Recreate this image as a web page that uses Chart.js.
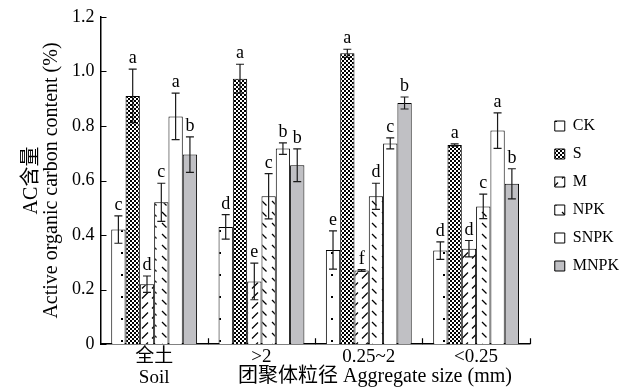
<!DOCTYPE html>
<html>
<head>
<meta charset="utf-8">
<script src="https://cdn.jsdelivr.net/npm/chart.js"></script>
<style>
  html, body { margin: 0; padding: 0; background: #fff; }
</style>
</head>
<body>
<canvas id="chart" width="639" height="390"></canvas>
<script>
// 横軸カテゴリ（団聚体粒径）
const categories = [['全土', 'Soil'], '>2', '0.25~2', '<0.25'];
const seriesNames = ['CK', 'S', 'M', 'NPK', 'SNPK', 'MNPK'];

// 各処理の平均値
const ckValues   = [0.42, 0.43, 0.345, 0.343];
const sValues    = [0.91, 0.973, 1.066, 0.73];
const mValues    = [0.22, 0.23, 0.27, 0.35];
const npkValues  = [0.52, 0.542, 0.542, 0.505];
const snpkValues = [0.835, 0.717, 0.736, 0.783];
const mnpkValues = [0.695, 0.656, 0.884, 0.588];

// 標準誤差
const ckErrors   = [0.05, 0.045, 0.07, 0.032];
const sErrors    = [0.098, 0.053, 0.015, 0.004];
const mErrors    = [0.03, 0.067, 0.003, 0.03];
const npkErrors  = [0.07, 0.083, 0.048, 0.045];
const snpkErrors = [0.085, 0.021, 0.02, 0.065];
const mnpkErrors = [0.065, 0.06, 0.022, 0.055];

// 有意差の文字
const ckLetters   = ['c', 'd', 'e', 'd'];
const sLetters    = ['a', 'a', 'a', 'a'];
const mLetters    = ['d', 'e', 'f', 'd'];
const npkLetters  = ['c', 'c', 'd', 'c'];
const snpkLetters = ['a', 'b', 'c', 'a'];
const mnpkLetters = ['b', 'b', 'b', 'b'];

const yTickLabels = ['0', '0.2', '0.4', '0.6', '0.8', '1.0', '1.2'];
const yTitle = ['AC含量', 'Active organic carbon content (%)'];
const xTitle = '团聚体粒径 Aggregate size (mm)';

const SERIF = "'Liberation Serif', 'Times New Roman', 'Noto Sans CJK SC', serif";

// 塗りつぶしパターンを作る
function makePattern(kind) {
  const c = document.createElement('canvas');
  const g = c.getContext('2d');
  if (kind === 'dots') {
    c.width = 14; c.height = 22;
    g.fillStyle = '#fff'; g.fillRect(0, 0, 14, 22);
    g.fillStyle = '#000'; g.fillRect(9, 10, 2, 2);
  } else if (kind === 'checker') {
    c.width = 4; c.height = 4;
    g.fillStyle = '#000'; g.fillRect(0, 0, 4, 4);
    g.fillStyle = '#fff';
    g.fillRect(0, 0, 2, 2);
    g.fillRect(2, 2, 2, 2);
  } else if (kind === 'slash') {
    c.width = 10; c.height = 10;
    g.fillStyle = '#fff'; g.fillRect(0, 0, 10, 10);
    g.strokeStyle = '#000'; g.lineWidth = 1.3;
    g.beginPath(); g.moveTo(2, 8.5); g.lineTo(8, 2.5); g.stroke();
  } else if (kind === 'backslash') {
    c.width = 10; c.height = 11;
    g.fillStyle = '#fff'; g.fillRect(0, 0, 10, 11);
    g.strokeStyle = '#000'; g.lineWidth = 1.3;
    g.beginPath(); g.moveTo(2, 3); g.lineTo(6.5, 7.5); g.stroke();
  }
  return g.createPattern(c, 'repeat');
}

const fills = [
  makePattern('dots'),
  makePattern('checker'),
  makePattern('slash'),
  makePattern('backslash'),
  '#ffffff',
  '#c0c0c4'
];

const allValues  = [ckValues, sValues, mValues, npkValues, snpkValues, mnpkValues];
const allErrors  = [ckErrors, sErrors, mErrors, npkErrors, snpkErrors, mnpkErrors];
const allLetters = [ckLetters, sLetters, mLetters, npkLetters, snpkLetters, mnpkLetters];

// エラーバーと文字
const errorBarPlugin = {
  id: 'errorBars',
  afterDatasetsDraw(chart) {
    const ctx = chart.ctx;
    const y = chart.scales.y;
    ctx.save();
    ctx.strokeStyle = '#1a1a1a';
    ctx.lineWidth = 1.2;
    ctx.fillStyle = '#000';
    ctx.font = '18px ' + SERIF;
    ctx.textAlign = 'center';
    ctx.textBaseline = 'alphabetic';
    chart.data.datasets.forEach((ds, i) => {
      const meta = chart.getDatasetMeta(i);
      meta.data.forEach((bar, j) => {
        const v = ds.data[j];
        const e = allErrors[i][j];
        const top = y.getPixelForValue(v + e);
        const bot = y.getPixelForValue(v - e);
        ctx.beginPath();
        ctx.moveTo(bar.x, top); ctx.lineTo(bar.x, bot);
        ctx.moveTo(bar.x - 4, top); ctx.lineTo(bar.x + 4, top);
        ctx.moveTo(bar.x - 4, bot); ctx.lineTo(bar.x + 4, bot);
        ctx.stroke();
        ctx.fillText(allLetters[i][j], bar.x, top - 6);
      });
    });
    ctx.restore();
  }
};

// 内向きの目盛りと横軸タイトル
const axisExtrasPlugin = {
  id: 'axisExtras',
  afterDraw(chart) {
    const ctx = chart.ctx;
    const x = chart.scales.x;
    const y = chart.scales.y;
    ctx.save();
    ctx.strokeStyle = '#000';
    ctx.lineWidth = 1.2;
    ctx.beginPath();
    y.ticks.forEach(t => {
      const py = Math.round(y.getPixelForValue(t.value)) + 0.5;
      ctx.moveTo(x.left, py); ctx.lineTo(x.left + 6, py);
    });
    const n = categories.length;
    for (let i = 1; i <= n; i++) {
      const px = Math.round(x.left + i * x.width / n) + 0.5;
      ctx.moveTo(px, y.bottom); ctx.lineTo(px, y.bottom - 6);
    }
    ctx.stroke();
    ctx.fillStyle = '#000';
    ctx.font = '20px ' + SERIF;
    ctx.textAlign = 'center';
    ctx.textBaseline = 'middle';
    ctx.fillText(xTitle, 375, 377);
    ctx.restore();
  }
};

// 凡例の位置を微調整
const legendShiftPlugin = {
  id: 'legendShift',
  afterLayout(chart) {
    const lg = chart.legend;
    if (!lg) return;
    lg.left += 13; lg.right += 13;
    lg.top -= 3; lg.bottom -= 3;
  }
};

Chart.defaults.font.family = SERIF;
Chart.defaults.color = '#000';

new Chart(document.getElementById('chart').getContext('2d'), {
  type: 'bar',
  data: {
    labels: categories,
    datasets: seriesNames.map((name, i) => ({
      label: name,
      data: allValues[i],
      backgroundColor: fills[i],
      borderColor: '#000',
      borderWidth: 1,
      categoryPercentage: 0.8,
      barPercentage: 1.0
    }))
  },
  options: {
    responsive: false,
    animation: false,
    devicePixelRatio: 1,
    layout: { padding: { left: 14, right: 23, top: 8, bottom: 0 } },
    scales: {
      x: {
        grid: { display: false, drawTicks: false },
        border: { color: '#000', width: 1.5 },
        ticks: { font: { size: 19, lineHeight: 1.1 }, padding: 2, maxRotation: 0 }
      },
      y: {
        min: 0,
        max: 1.2,
        grid: { display: false, drawTicks: false },
        border: { color: '#000', width: 1.5 },
        ticks: {
          stepSize: 0.2,
          padding: 6,
          font: { size: 18 },
          callback: (v, i) => yTickLabels[i]
        },
        title: {
          display: true,
          text: yTitle,
          font: { size: 20, lineHeight: 1.0 },
          padding: { top: 8, bottom: 4 }
        }
      }
    },
    plugins: {
      legend: {
        position: 'right',
        labels: { boxWidth: 10, boxHeight: 10, padding: 12, font: { size: 16 } }
      },
      tooltip: { enabled: false }
    }
  },
  plugins: [errorBarPlugin, axisExtrasPlugin, legendShiftPlugin]
});
</script>
</body>
</html>
